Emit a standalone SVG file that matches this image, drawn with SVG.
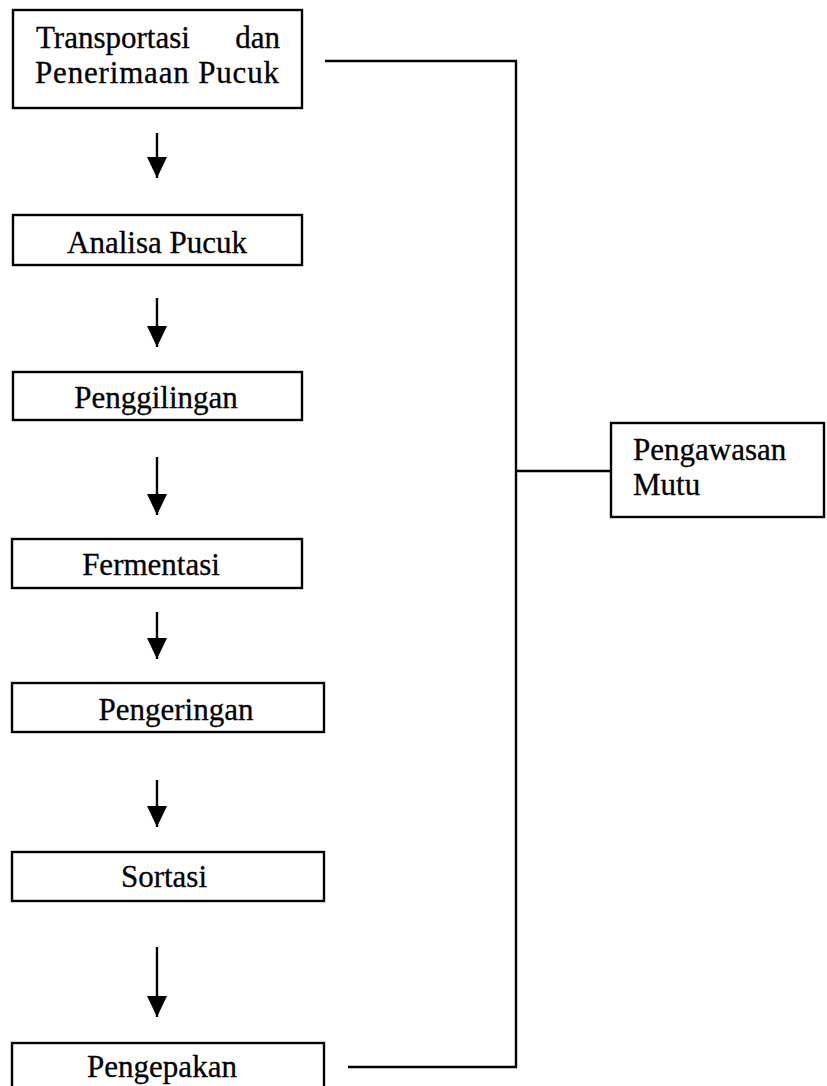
<svg xmlns="http://www.w3.org/2000/svg" width="827" height="1086" viewBox="0 0 827 1086">
<style>
.box{fill:#fff;stroke:#000;stroke-width:2.4}
.t{font-family:"Liberation Serif","Times New Roman",serif;font-size:31px;fill:#000;stroke:#000;stroke-width:0.3}
.c{text-anchor:middle}
.ln{fill:none;stroke:#000;stroke-width:2.4}
.ar{fill:none;stroke:#000;stroke-width:2.4;marker-end:url(#ah)}
</style>
<defs>
<marker id="ah" viewBox="0 0 21 20" refX="21" refY="10" markerWidth="21" markerHeight="20" markerUnits="userSpaceOnUse" orient="auto">
<path d="M0,0 L21,10 L0,20 z" fill="#000"/>
</marker>
</defs>
<rect width="827" height="1086" fill="#fff"/>
<g id="connectors">
<path class="ar" d="M157,133 V178"/>
<path class="ar" d="M157,298 V347"/>
<path class="ar" d="M157,457 V515"/>
<path class="ar" d="M157,612 V659"/>
<path class="ar" d="M157,780 V827"/>
<path class="ar" d="M157,947 V1017"/>
<path class="ln" d="M325,61 H516 V1067 H348"/>
<path class="ln" d="M516,471 H611"/>
</g>
<g id="n1">
<rect class="box" x="13" y="10" width="289" height="98"/>
<text class="t" x="36" y="48">Transportasi</text>
<text class="t" x="280" y="48" text-anchor="end">dan</text>
<text class="t" x="35" y="83" font-size="32" textLength="244" lengthAdjust="spacing">Penerimaan Pucuk</text>
</g>
<g id="n2">
<rect class="box" x="13" y="215" width="289" height="50"/>
<text class="t c" x="157" y="253">Analisa Pucuk</text>
</g>
<g id="n3">
<rect class="box" x="13" y="372" width="289" height="48"/>
<text class="t c" x="156" y="408">Penggilingan</text>
</g>
<g id="n4">
<rect class="box" x="12" y="539" width="290" height="49"/>
<text class="t c" x="151" y="575">Fermentasi</text>
</g>
<g id="n5">
<rect class="box" x="12" y="683" width="312" height="49"/>
<text class="t c" x="176" y="720">Pengeringan</text>
</g>
<g id="n6">
<rect class="box" x="12" y="852" width="312" height="49"/>
<text class="t c" x="164" y="887">Sortasi</text>
</g>
<g id="n7">
<rect class="box" x="12" y="1043" width="312" height="60"/>
<text class="t c" x="162" y="1077">Pengepakan</text>
</g>
<g id="n8">
<rect class="box" x="611" y="423" width="213" height="94"/>
<text class="t" x="633" y="460">Pengawasan</text>
<text class="t" x="633" y="495">Mutu</text>
</g>
</svg>
